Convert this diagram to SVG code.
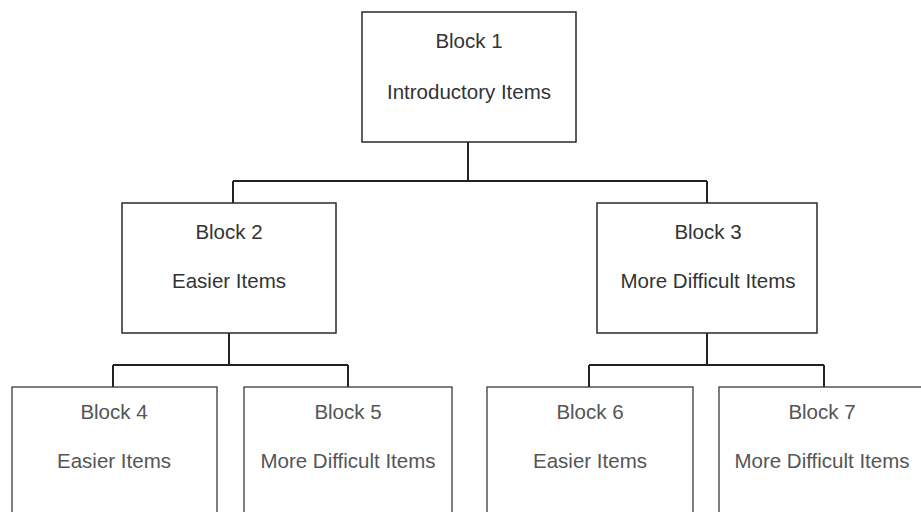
<svg xmlns="http://www.w3.org/2000/svg" width="921" height="512" viewBox="0 0 921 512">
<style>
.box{fill:#fff;stroke:#2a2a2a;stroke-width:1.5}
.box2{fill:#fff;stroke:#3a3a3a;stroke-width:1.3}
.t{font-family:"Liberation Sans",Arial,Helvetica,sans-serif;font-size:20.5px;fill:#333;text-anchor:middle}
.t2{font-family:"Liberation Sans",Arial,Helvetica,sans-serif;font-size:20.5px;fill:#555;text-anchor:middle}
.c{fill:none;stroke:#222;stroke-width:2}
</style>
<rect width="921" height="512" fill="#fff"/>
<g id="connectors">
<path class="c" d="M468,142 V181 M233,181 H707 M233,181 V203 M707,181 V203"/>
<path class="c" d="M229,333 V365 M113,365 H348 M113,365 V387 M348,365 V387"/>
<path class="c" d="M707,333 V365 M589,365 H824 M589,365 V387 M824,365 V387"/>
</g>
<g id="block1">
<rect class="box" x="362" y="12" width="214" height="130"/>
<text class="t" x="469" y="48">Block 1</text>
<text class="t" x="469" y="99">Introductory Items</text>
</g>
<g id="block2">
<rect class="box" x="122" y="203" width="214" height="130"/>
<text class="t" x="229" y="239">Block 2</text>
<text class="t" x="229" y="288">Easier Items</text>
</g>
<g id="block3">
<rect class="box" x="597" y="203" width="220" height="130"/>
<text class="t" x="708" y="239">Block 3</text>
<text class="t" x="708" y="288">More Difficult Items</text>
</g>
<g id="block4">
<rect class="box2" x="12" y="387" width="205" height="140"/>
<text class="t2" x="114" y="419">Block 4</text>
<text class="t2" x="114" y="468">Easier Items</text>
</g>
<g id="block5">
<rect class="box2" x="244" y="387" width="208" height="140"/>
<text class="t2" x="348" y="419">Block 5</text>
<text class="t2" x="348" y="468">More Difficult Items</text>
</g>
<g id="block6">
<rect class="box2" x="487" y="387" width="206" height="140"/>
<text class="t2" x="590" y="419">Block 6</text>
<text class="t2" x="590" y="468">Easier Items</text>
</g>
<g id="block7">
<rect class="box2" x="719" y="387" width="210" height="140"/>
<text class="t2" x="822" y="419">Block 7</text>
<text class="t2" x="822" y="468">More Difficult Items</text>
</g>
</svg>
